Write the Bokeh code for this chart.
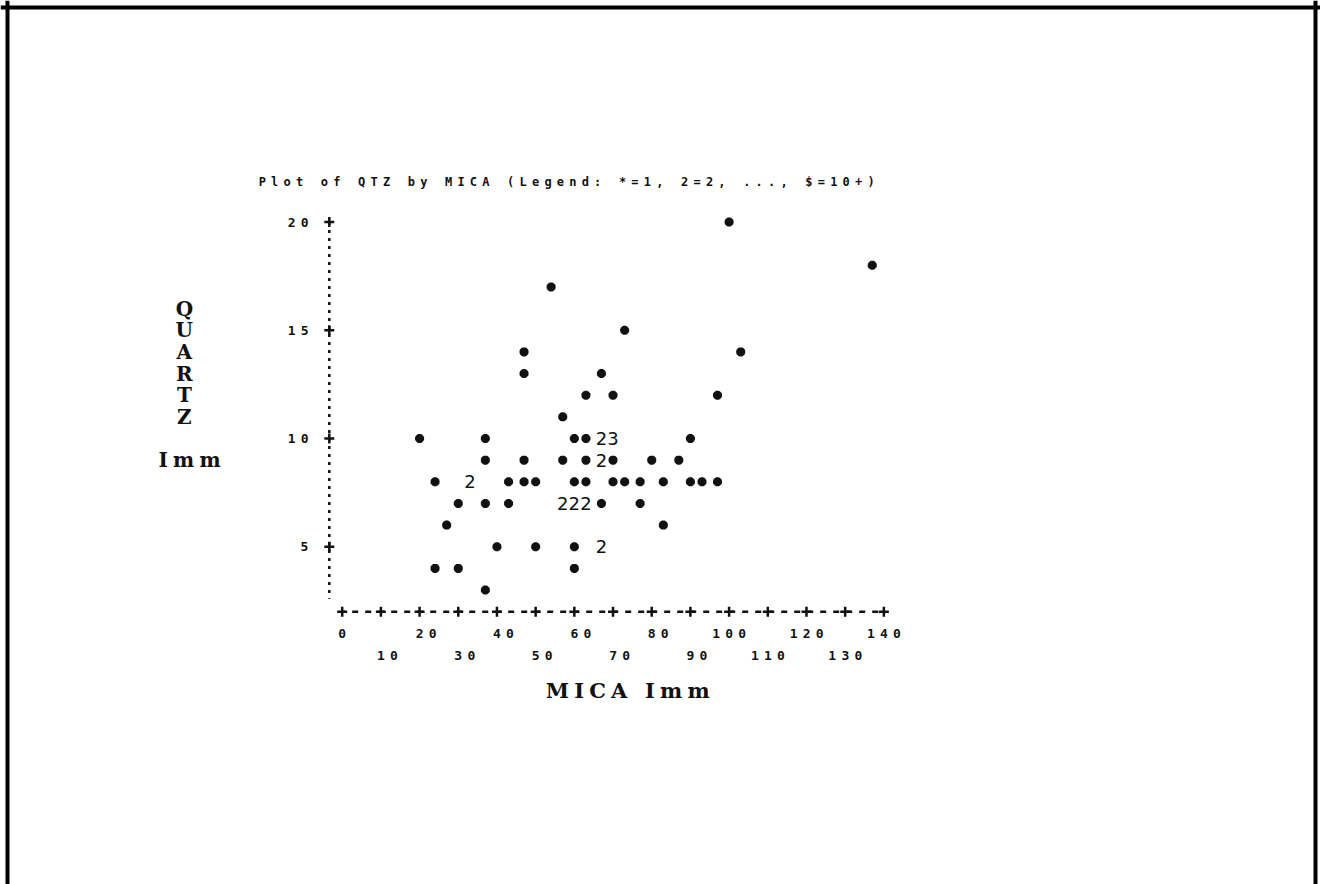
from bokeh.plotting import figure
from bokeh.models import ColumnDataSource, Span
from bokeh.core.properties import value
from bokeh.embed import file_html
from bokeh.resources import INLINE

# Samples per plotting cell: MICA (Imm), QTZ (Imm), number of samples in the cell
mica = [100, 137, 54, 73, 47, 103, 47, 67, 63, 70, 97, 57,
        20, 37, 60, 63, 67, 70, 90,
        37, 47, 57, 63, 67, 70, 80, 87,
        24, 33, 43, 47, 50, 60, 63, 70, 73, 77, 83, 90, 93, 97,
        30, 37, 43, 57, 60, 63, 67, 77,
        27, 83,
        40, 50, 60, 67,
        24, 30, 60,
        37]
qtz = [20, 18, 17, 15, 14, 14, 13, 13, 12, 12, 12, 11,
       10, 10, 10, 10, 10, 10, 10,
       9, 9, 9, 9, 9, 9, 9, 9,
       8, 8, 8, 8, 8, 8, 8, 8, 8, 8, 8, 8, 8, 8,
       7, 7, 7, 7, 7, 7, 7, 7,
       6, 6,
       5, 5, 5, 5,
       4, 4, 4,
       3]
count = [1, 1, 1, 1, 1, 1, 1, 1, 1, 1, 1, 1,
         1, 1, 1, 1, 2, 3, 1,
         1, 1, 1, 1, 2, 1, 1, 1,
         1, 2, 1, 1, 1, 1, 1, 1, 1, 1, 1, 1, 1, 1,
         1, 1, 1, 2, 2, 2, 1, 1,
         1, 1,
         1, 1, 1, 2,
         1, 1, 1,
         1]

x_ticks = [0, 10, 20, 30, 40, 50, 60, 70, 80, 90, 100, 110, 120, 130, 140]
x_tick_labels = ["0", "10", "20", "30", "40", "50", "60", "70",
                 "80", "90", "100", "110", "120", "130", "140"]
y_ticks = [5, 10, 15, 20]
y_tick_labels = ["5", "10", "15", "20"]

title = "Plot of QTZ by MICA (Legend: *=1, 2=2, ..., $=10+)"
x_title = "MICA Imm"
y_title = "Q\nU\nA\nR\nT\nZ\n\nImm"

# line-printer geometry: one column = 10/3 MICA units, one line = 1 QTZ unit
COL = 10 / 3
PX_X = 3.869      # pixels per MICA unit
PX_Y = 21.65      # pixels per QTZ unit
PITCH = COL * PX_X
SPACING = 5.2     # extra tracking between printed characters (px)

W, H = 1320, 884
x0_px, y10_px = 341.7, 438.0
x_start = -x0_px / PX_X
x_end = x_start + W / PX_X
y_end = 10 + y10_px / PX_Y
y_start = y_end - H / PX_Y

p = figure(width=W, height=H, x_range=(x_start, x_end), y_range=(y_start, y_end),
           x_axis_type=None, y_axis_type=None, toolbar_location=None,
           output_backend="svg", min_border=0,
           background_fill_color="white", border_fill_color="white",
           outline_line_color=None,
           styles={"letter-spacing": f"{SPACING}px"})
p.xgrid.visible = False
p.ygrid.visible = False

ink = "#111111"
mono = value("DejaVu Sans Mono")

# page frame (open at the bottom edge)
for loc, dim in [(x_start + 7 / PX_X, "height"), (x_end - 5 / PX_X, "height"),
                 (y_end - 7 / PX_Y, "width")]:
    p.add_layout(Span(location=loc, dimension=dim, line_color="black", line_width=4))

# vertical axis: dotted rule with "+" at each labelled tick
y_axis_x = x_ticks[0] - COL
x_axis_y = y_ticks[0] - 3
p.segment(x0=[y_axis_x], y0=[y_ticks[-1]], x1=[y_axis_x], y1=[x_axis_y + 0.6],
          line_color=ink, line_width=2.5, line_dash="3 5")
p.scatter(x=[y_axis_x] * len(y_ticks), y=y_ticks, marker="cross", size=10,
          line_color=ink, line_width=2.5)
ylab = ColumnDataSource(dict(
    x=[y_axis_x] * len(y_ticks), y=y_ticks, text=y_tick_labels,
    xo=[-21 - (len(t) * PITCH - SPACING) for t in y_tick_labels]))
p.text(x="x", y="y", text="text", x_offset="xo", source=ylab,
       text_font=mono, text_font_style="bold", text_font_size="13px",
       text_align="left", text_baseline="middle", text_color=ink)

# horizontal axis: dashed rule with "+" every 10 units
p.segment(x0=[x_ticks[0]], y0=[x_axis_y], x1=[x_ticks[-1]], y1=[x_axis_y],
          line_color=ink, line_width=2.5, line_dash="6 7", line_dash_offset=3)
p.scatter(x=x_ticks, y=[x_axis_y] * len(x_ticks), marker="cross", size=10,
          line_color=ink, line_width=2.5)
xlab = ColumnDataSource(dict(
    x=x_ticks,
    y=[x_axis_y - 1 if i % 2 == 0 else x_axis_y - 2 for i in range(len(x_ticks))],
    text=x_tick_labels,
    xo=[-PITCH * ((len(t) - 1) // 2) - 3.9 for t in x_tick_labels]))
p.text(x="x", y="y", text="text", x_offset="xo", source=xlab,
       text_font=mono, text_font_style="bold", text_font_size="13px",
       text_align="left", text_baseline="middle", text_color=ink)

# observations: "*" for a single sample, the count otherwise
single = ColumnDataSource(dict(
    x=[m for m, c in zip(mica, count) if c == 1],
    y=[q for q, c in zip(qtz, count) if c == 1]))
p.scatter(x="x", y="y", source=single, marker="asterisk", size=9,
          line_color=ink, line_width=3.2)
multi = ColumnDataSource(dict(
    x=[m for m, c in zip(mica, count) if c > 1],
    y=[q for q, c in zip(qtz, count) if c > 1],
    text=[str(c) for c in count if c > 1]))
p.text(x="x", y="y", text="text", source=multi,
       text_font=value("DejaVu Sans"), text_font_size="18px",
       text_align="center", text_baseline="middle", text_color=ink)

# titles
p.text(x=[x_ticks[0] - 21.6], y=[y_ticks[-1] + 1.85], text=[title],
       text_font=mono, text_font_style="bold", text_font_size="12px",
       text_align="left", text_baseline="middle", text_color=ink)
p.text(x=[x_ticks[0] + 73.8], y=[x_axis_y - 3.64], text=[x_title],
       x_offset=-(len(x_title) - 1) * SPACING / 2,
       text_font=value("DejaVu Serif"), text_font_style="bold", text_font_size="21px",
       text_align="center", text_baseline="middle", text_color=ink)
p.text(x=[x_ticks[0] - 40.8], y=[12.5], text=[y_title],
       text_font=value("DejaVu Serif"), text_font_style="bold", text_font_size="20px",
       text_line_height=0.9,
       text_align="center", text_baseline="middle", text_color=ink)

open("out.html", "w").write(file_html(p, INLINE))
